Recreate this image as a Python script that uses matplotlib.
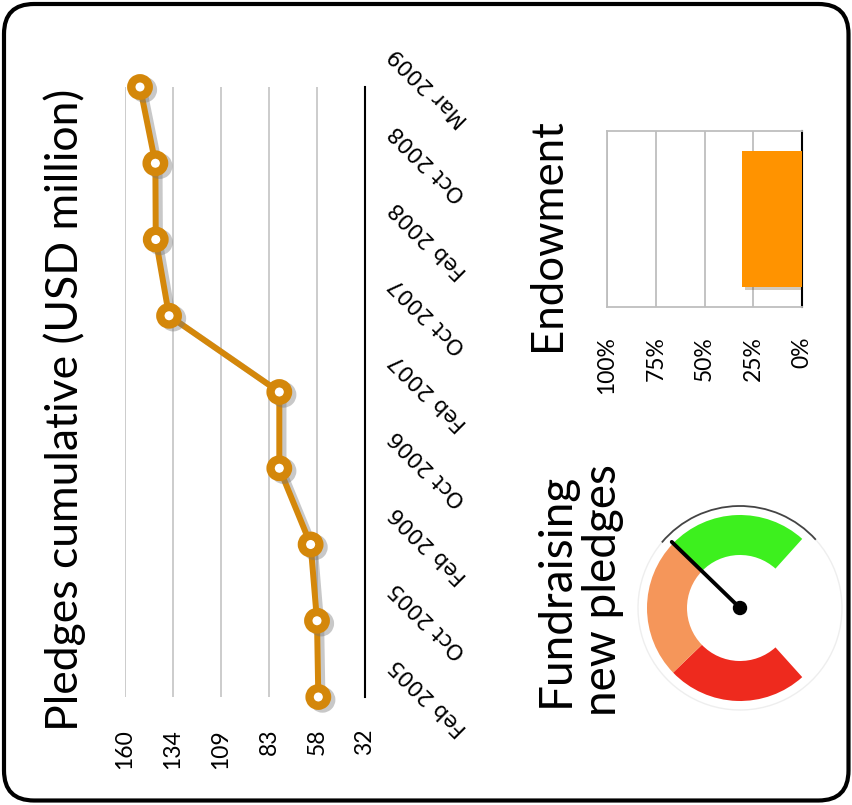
import matplotlib
matplotlib.use('Agg')
import matplotlib.pyplot as plt
import matplotlib.patheffects as pe
from matplotlib.patches import Wedge, Circle, FancyBboxPatch, Arc
import numpy as np

# pledges, cumulative, USD million
dates = ['Feb 2005', 'Oct 2005', 'Feb 2006', 'Oct 2006', 'Feb 2007',
         'Oct 2007', 'Feb 2008', 'Oct 2008', 'Mar 2009']
pledges = [56.9, 57.6, 61.0, 77.7, 77.7, 136.5, 143.6, 143.8, 152.0]
value_ticks = [32, 57.6, 83.2, 108.8, 134.4, 160]
value_labels = ['32', '58', '83', '109', '134', '160']

# endowment share
endowment_pct = [31]
pct_ticks = [0, 25, 50, 75, 100]
pct_labels = ['0%', '25%', '50%', '75%', '100%']

# fundraising gauge: bands low -> high, needle position on 0..1
gauge_edges = [0, 1 / 3, 2 / 3, 1]
gauge_colors = ['#EE2A1E', '#F5965A', '#3DF01E']
gauge_value = 0.667

W, H = 853, 805
ORANGE = '#D4870A'
plt.rcParams['font.family'] = ['Lato', 'DejaVu Sans']

fig = plt.figure(figsize=(W / 100, H / 100), dpi=100)


def px_axes(x0, y0, x1, y1, **kw):
    return fig.add_axes([x0 / W, 1 - y1 / H, (x1 - x0) / W, (y1 - y0) / H], **kw)


# rounded frame
bg = fig.add_axes([0, 0, 1, 1], zorder=-5)
bg.set_xlim(0, W)
bg.set_ylim(H, 0)
bg.axis('off')
bg.add_patch(FancyBboxPatch((4, 4), W - 8.5, H - 8.5,
                            boxstyle='round,pad=0,rounding_size=30',
                            fc='white', ec='black', lw=3))

# --- line chart (turned on its side) ---
ax = px_axes(125, 87, 365, 697)
idx = np.arange(len(dates))
ax.plot(pledges, idx, color=ORANGE, lw=4.3, marker='o', ms=12.6, mew=6.0,
        mfc='white', mec=ORANGE, clip_on=False, zorder=3,
        path_effects=[pe.SimpleLineShadow(offset=(3, -2), shadow_color='#777777', alpha=0.4),
                      pe.Normal()])
ax.set_xlim(160, 32)
ax.set_ylim(0, len(dates) - 1)
ax.set_xticks(value_ticks, value_labels, rotation=90)
ax.set_yticks(idx, dates)
ax.yaxis.tick_right()
ax.tick_params(axis='x', length=0, pad=23, labelsize=16.5)
ax.tick_params(axis='y', length=0, pad=15, labelsize=15.5)
for lab in ax.get_yticklabels():
    lab.set_rotation(135)
    lab.set_fontfamily('DejaVu Sans')
    lab.set_va('center')
    lab.set_ha('left')
ax.grid(axis='x', color='#C8C8C8', lw=1.3)
ax.grid(axis='y', visible=False)
for s in ['left', 'top', 'bottom']:
    ax.spines[s].set_visible(False)
ax.spines['right'].set_color('black')
ax.spines['right'].set_linewidth(1.5)

fig.text(65 / W, 1 - 410 / H, 'Pledges cumulative (USD million)', rotation=90,
         ha='center', va='center', fontsize=32)

# --- endowment bar ---
bx = px_axes(607, 131, 802, 307)
bx.barh([0], endowment_pct, height=0.77, color='#FF9300', zorder=3,
        path_effects=[pe.withSimplePatchShadow(offset=(2.5, -2.5), alpha=0.25)])
bx.set_xlim(100, 0)
bx.set_ylim(-0.5, 0.5)
bx.set_xticks(pct_ticks, pct_labels, rotation=90)
bx.set_yticks([])
bx.tick_params(axis='x', length=0, pad=21, labelsize=16.5)
bx.grid(axis='x', color='#BEBEBE', lw=1.3)
for s in ['left', 'top', 'bottom']:
    bx.spines[s].set_color('#BEBEBE')
    bx.spines[s].set_linewidth(1.3)
bx.spines['right'].set_color('black')
bx.spines['right'].set_linewidth(1.5)

fig.text(548 / W, 1 - 235 / H, 'Endowment', rotation=90,
         ha='center', va='center', fontsize=31.5)

# --- fundraising gauge ---
gx = px_axes(630, 498, 850, 718)
gx.set_xlim(-1.1, 1.1)
gx.set_ylim(-1.1, 1.1)
gx.set_aspect('equal')
gx.axis('off')
start, sweep = 312, 264
for lo, hi, c in zip(gauge_edges[:-1], gauge_edges[1:], gauge_colors):
    gx.add_patch(Wedge((0, 0), 0.93, start - hi * sweep, start - lo * sweep,
                       width=0.40, fc=c, ec='none'))
gx.add_patch(Arc((0, 0), 2.04, 2.04, theta1=140, theta2=405, color='#EEEEEE', lw=1))
gx.add_patch(Arc((0, 0), 2.04, 2.04, theta1=42, theta2=140, color='#444444', lw=1.3))
ang = np.deg2rad(start - gauge_value * sweep)
gx.plot([0, 0.95 * np.cos(ang)], [0, 0.95 * np.sin(ang)], color='black', lw=2.8,
        solid_capstyle='round')
gx.add_patch(Circle((0, 0), 0.065, color='black'))

fig.text(579 / W, 1 - 590 / H, 'Fundraising\nnew pledges', rotation=90,
         ha='center', va='center', multialignment='center', linespacing=1.15,
         fontsize=33)

fig.savefig('out.png', dpi=100)
